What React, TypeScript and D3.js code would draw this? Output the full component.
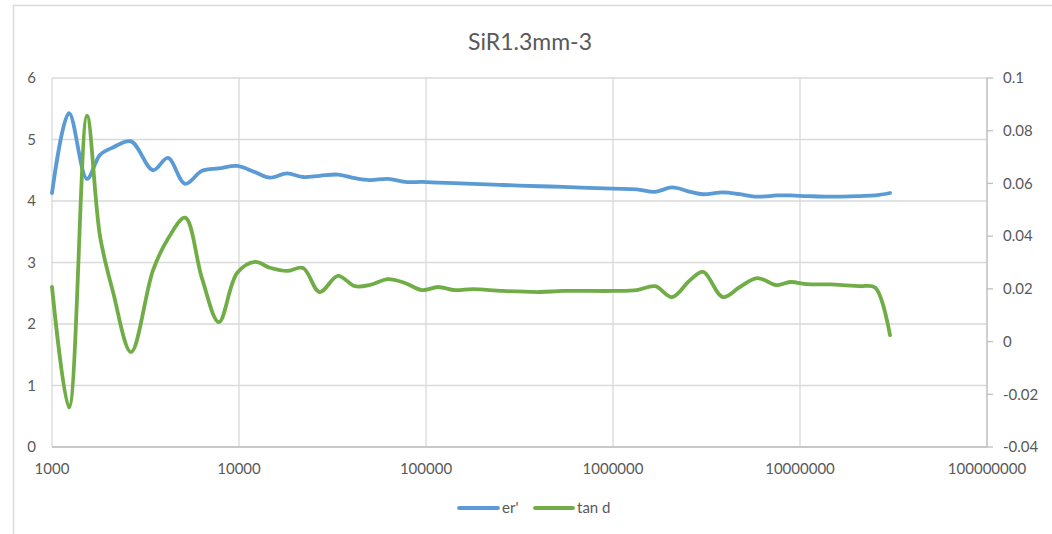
import React from 'react';
import * as d3 from 'd3';

// frequencies (Hz) shared by both series
const freq = [
  1000, 1233, 1538, 1806, 2117, 2646, 3468, 4170, 5150, 6340, 7800, 9770,
  12170, 14650, 18060, 22000, 27000, 33800, 41700, 50200, 62600, 77200,
  95400, 116000, 143000, 178000, 257000, 406000, 540000, 1000000, 1340000,
  1680000, 2070000, 2580000, 3030000, 3870000, 4770000, 5890000, 7540000,
  8860000, 10900000, 14500000, 20900000, 25200000, 30300000,
];

// er' (left axis)
const erValues = [
  4.13, 5.43, 4.36, 4.75, 4.87, 4.97, 4.5, 4.7, 4.28, 4.49, 4.53, 4.57,
  4.47, 4.38, 4.45, 4.39, 4.41, 4.43, 4.37, 4.34, 4.36, 4.31,
  4.31, 4.3, 4.29, 4.28, 4.26, 4.24, 4.23, 4.2, 4.19,
  4.15, 4.22, 4.15, 4.11, 4.14, 4.11, 4.07, 4.09,
  4.09, 4.08, 4.07, 4.08, 4.09, 4.13,
];

// tan d (right axis)
const tanValues = [
  0.0207, -0.025, 0.0857, 0.04, 0.019, -0.004, 0.027, 0.039, 0.047, 0.024, 0.0074, 0.026,
  0.0302, 0.028, 0.0268, 0.0279, 0.0188, 0.0249, 0.021, 0.0215, 0.0237, 0.0222,
  0.0195, 0.0207, 0.0195, 0.0199, 0.0192, 0.0188, 0.0192, 0.0192, 0.0195,
  0.021, 0.0169, 0.0233, 0.0264, 0.0169, 0.0207, 0.0241, 0.0214,
  0.0226, 0.0218, 0.0217, 0.021, 0.0205, 0.0024,
];

const xTicks = [1000, 10000, 100000, 1000000, 10000000, 100000000];
const leftTicks = [0, 1, 2, 3, 4, 5, 6];
const rightTicks = ['-0.04', '-0.02', '0', '0.02', '0.04', '0.06', '0.08', '0.1'];
const title = 'SiR1.3mm-3';
const seriesNames = ["er'", 'tan d'];

const W = 1052;
const H = 534;
const margin = { top: 78, right: 65, bottom: 87, left: 52 };
const font = 'Lato, "Open Sans", sans-serif';
const textColor = '#595959';
const blue = '#5b9bd5';
const green = '#70ad47';

const App = () => {
  const x = d3.scaleLog().domain([1000, 100000000]).range([margin.left, W - margin.right]);
  const yL = d3.scaleLinear().domain([0, 6]).range([H - margin.bottom, margin.top]);
  const yR = d3.scaleLinear().domain([-0.04, 0.1]).range([H - margin.bottom, margin.top]);

  const erLine = d3.line<number>()
    .x((_, i) => x(freq[i]))
    .y(d => yL(d))
    .curve(d3.curveCatmullRom.alpha(0.5));

  const tanLine = d3.line<number>()
    .x((_, i) => x(freq[i]))
    .y(d => yR(d))
    .curve(d3.curveCatmullRom.alpha(0.5));

  const x0 = margin.left;
  const x1 = W - margin.right;
  const yBottom = H - margin.bottom;
  const yTop = margin.top;

  return (
    <div style={{ position: 'absolute', left: 0, top: 0 }}>
      <svg width={W} height={H} style={{ display: 'block', background: 'white', fontFamily: font }}>
        {/* chart border */}
        <rect x={13.5} y={5.5} width={W + 20} height={H + 20} fill="none" stroke="#d9d9d9" strokeWidth={1.5} />

        <text x={530} y={50} textAnchor="middle" fontSize={23} fill={textColor}>{title}</text>

        {/* gridlines */}
        {leftTicks.map(t => (
          <line key={'h' + t} x1={x0} x2={x1} y1={yL(t)} y2={yL(t)} stroke="#d9d9d9" strokeWidth={1.3} />
        ))}
        {xTicks.slice(0, -1).map(t => (
          <line key={'v' + t} x1={x(t)} x2={x(t)} y1={yTop} y2={yBottom} stroke="#d9d9d9" strokeWidth={1.3} />
        ))}

        {/* axes */}
        <line x1={x0} x2={x1} y1={yBottom} y2={yBottom} stroke="#bfbfbf" strokeWidth={1.5} />
        <line x1={x1} x2={x1} y1={yTop} y2={yBottom} stroke="#bfbfbf" strokeWidth={1.5} />
        {rightTicks.map(t => (
          <line key={'rt' + t} x1={x1} x2={x1 + 6} y1={yR(+t)} y2={yR(+t)} stroke="#bfbfbf" strokeWidth={1.3} />
        ))}

        {leftTicks.map(t => (
          <text key={'lt' + t} x={36} y={yL(t)} dy="0.35em" textAnchor="end" fontSize={15} fill={textColor}>{t}</text>
        ))}
        {rightTicks.map(t => (
          <text key={'rl' + t} x={1003} y={yR(+t)} dy="0.35em" textAnchor="start" fontSize={15} fill={textColor}>{t}</text>
        ))}
        {xTicks.map(t => (
          <text key={'xt' + t} x={x(t)} y={469} dy="0.35em" textAnchor="middle" fontSize={15} fill={textColor}>{String(t)}</text>
        ))}

        {/* series */}
        <path d={erLine(erValues) ?? ''} fill="none" stroke={blue} strokeWidth={3.8} strokeLinecap="round" strokeLinejoin="round" />
        <path d={tanLine(tanValues) ?? ''} fill="none" stroke={green} strokeWidth={3.8} strokeLinecap="round" strokeLinejoin="round" />

        {/* legend */}
        <line x1={459} x2={498} y1={508} y2={508} stroke={blue} strokeWidth={3.8} strokeLinecap="round" />
        <text x={502} y={508} dy="0.35em" fontSize={15} fill={textColor}>{seriesNames[0]}</text>
        <line x1={535} x2={573} y1={508} y2={508} stroke={green} strokeWidth={3.8} strokeLinecap="round" />
        <text x={577} y={508} dy="0.35em" fontSize={15} fill={textColor}>{seriesNames[1]}</text>
      </svg>
    </div>
  );
};

export default App;
